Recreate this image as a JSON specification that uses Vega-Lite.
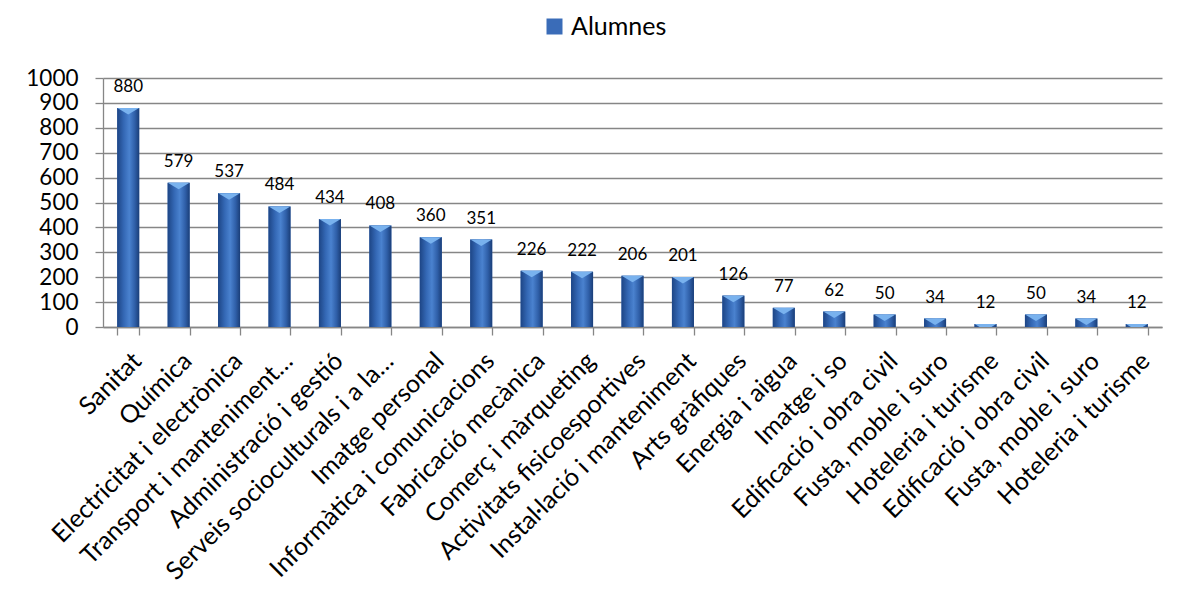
{
  "$schema": "https://vega.github.io/schema/vega-lite/v6.json",
  "autosize": {"type": "none"},
  "width": 1059,
  "height": 249,
  "padding": {"left": 103, "top": 78, "right": 15, "bottom": 265},
  "background": "white",
  "config": {
    "font": "Lato",
    "view": {"stroke": null},
    "axis": {"domainColor": "#868686", "tickColor": "#868686", "gridColor": "#868686", "domainWidth": 1.3, "tickWidth": 1.3, "gridWidth": 1.3, "labelColor": "#000000", "labelFont": "Lato"}
  },
  "data": {
    "values": [
      {"familia": "Sanitat", "alumnes": 880},
      {"familia": "Química", "alumnes": 579},
      {"familia": "Electricitat i electrònica", "alumnes": 537},
      {"familia": "Transport i manteniment…", "alumnes": 484},
      {"familia": "Administració i gestió", "alumnes": 434},
      {"familia": "Serveis socioculturals i a la…", "alumnes": 408},
      {"familia": "Imatge personal", "alumnes": 360},
      {"familia": "Informàtica i comunicacions", "alumnes": 351},
      {"familia": "Fabricació mecànica", "alumnes": 226},
      {"familia": "Comerç i màrqueting", "alumnes": 222},
      {"familia": "Activitats fisicoesportives", "alumnes": 206},
      {"familia": "Instal·lació i manteniment", "alumnes": 201},
      {"familia": "Arts gràfiques", "alumnes": 126},
      {"familia": "Energia i aigua", "alumnes": 77},
      {"familia": "Imatge i so", "alumnes": 62},
      {"familia": "Edificació i obra civil", "alumnes": 50},
      {"familia": "Fusta, moble i suro", "alumnes": 34},
      {"familia": "Hoteleria i turisme", "alumnes": 12},
      {"familia": "Edificació i obra civil\u200b", "alumnes": 50},
      {"familia": "Fusta, moble i suro\u200b", "alumnes": 34},
      {"familia": "Hoteleria i turisme\u200b", "alumnes": 12}
    ]
  },
  "encoding": {
    "x": {
      "field": "familia", "type": "nominal", "sort": null,
      "scale": {"paddingInner": 0.564, "paddingOuter": 0.282},
      "axis": {"title": null, "labelAngle": -45, "labelFontSize": 25, "tickBand": "extent", "tickSize": 8, "labelPadding": 13, "grid": false, "labelOverlap": false, "labelLimit": 0}
    },
    "y": {
      "field": "alumnes", "type": "quantitative",
      "scale": {"domain": [0, 1000], "nice": false},
      "axis": {"title": null, "format": "d", "values": [0, 100, 200, 300, 400, 500, 600, 700, 800, 900, 1000], "labelFontSize": 22.5, "tickSize": 8, "labelPadding": 17, "grid": true, "domain": true}
    }
  },
  "layer": [
    {
      "mark": {"type": "bar"},
      "encoding": {
        "color": {
          "datum": "Alumnes", "type": "nominal",
          "scale": {"range": ["#3a6cb8"]},
          "legend": {"title": null, "orient": "none", "legendX": 439, "legendY": -64, "labelFontSize": 25, "symbolType": "square", "symbolSize": 256, "symbolStrokeWidth": 0, "labelFont": "Lato", "labelColor": "#000000", "labelOffset": 4}
        }
      }
    },
    {
      "mark": {
        "type": "bar",
        "fill": {"gradient": "linear", "x1": 0, "y1": 0, "x2": 1, "y2": 0,
          "stops": [
            {"offset": 0, "color": "#1d4585"},
            {"offset": 0.3, "color": "#3468b5"},
            {"offset": 0.55, "color": "#4a82cf"},
            {"offset": 0.8, "color": "#2f5fa8"},
            {"offset": 1, "color": "#1a3e78"}
          ]}
      },
      "encoding": {}
    },
    {
      "mark": {"type": "point", "shape": "M -1 0 L 1 0 L 0 0.6 Z", "filled": true, "size": 470, "color": "#79b2ee", "opacity": 1, "clip": true},
      "encoding": {}
    },
    {
      "mark": {"type": "text", "dy": -16, "baseline": "alphabetic", "fontSize": 17, "color": "#000000", "font": "Lato"},
      "encoding": {"text": {"field": "alumnes", "type": "quantitative"}}
    }
  ]
}
